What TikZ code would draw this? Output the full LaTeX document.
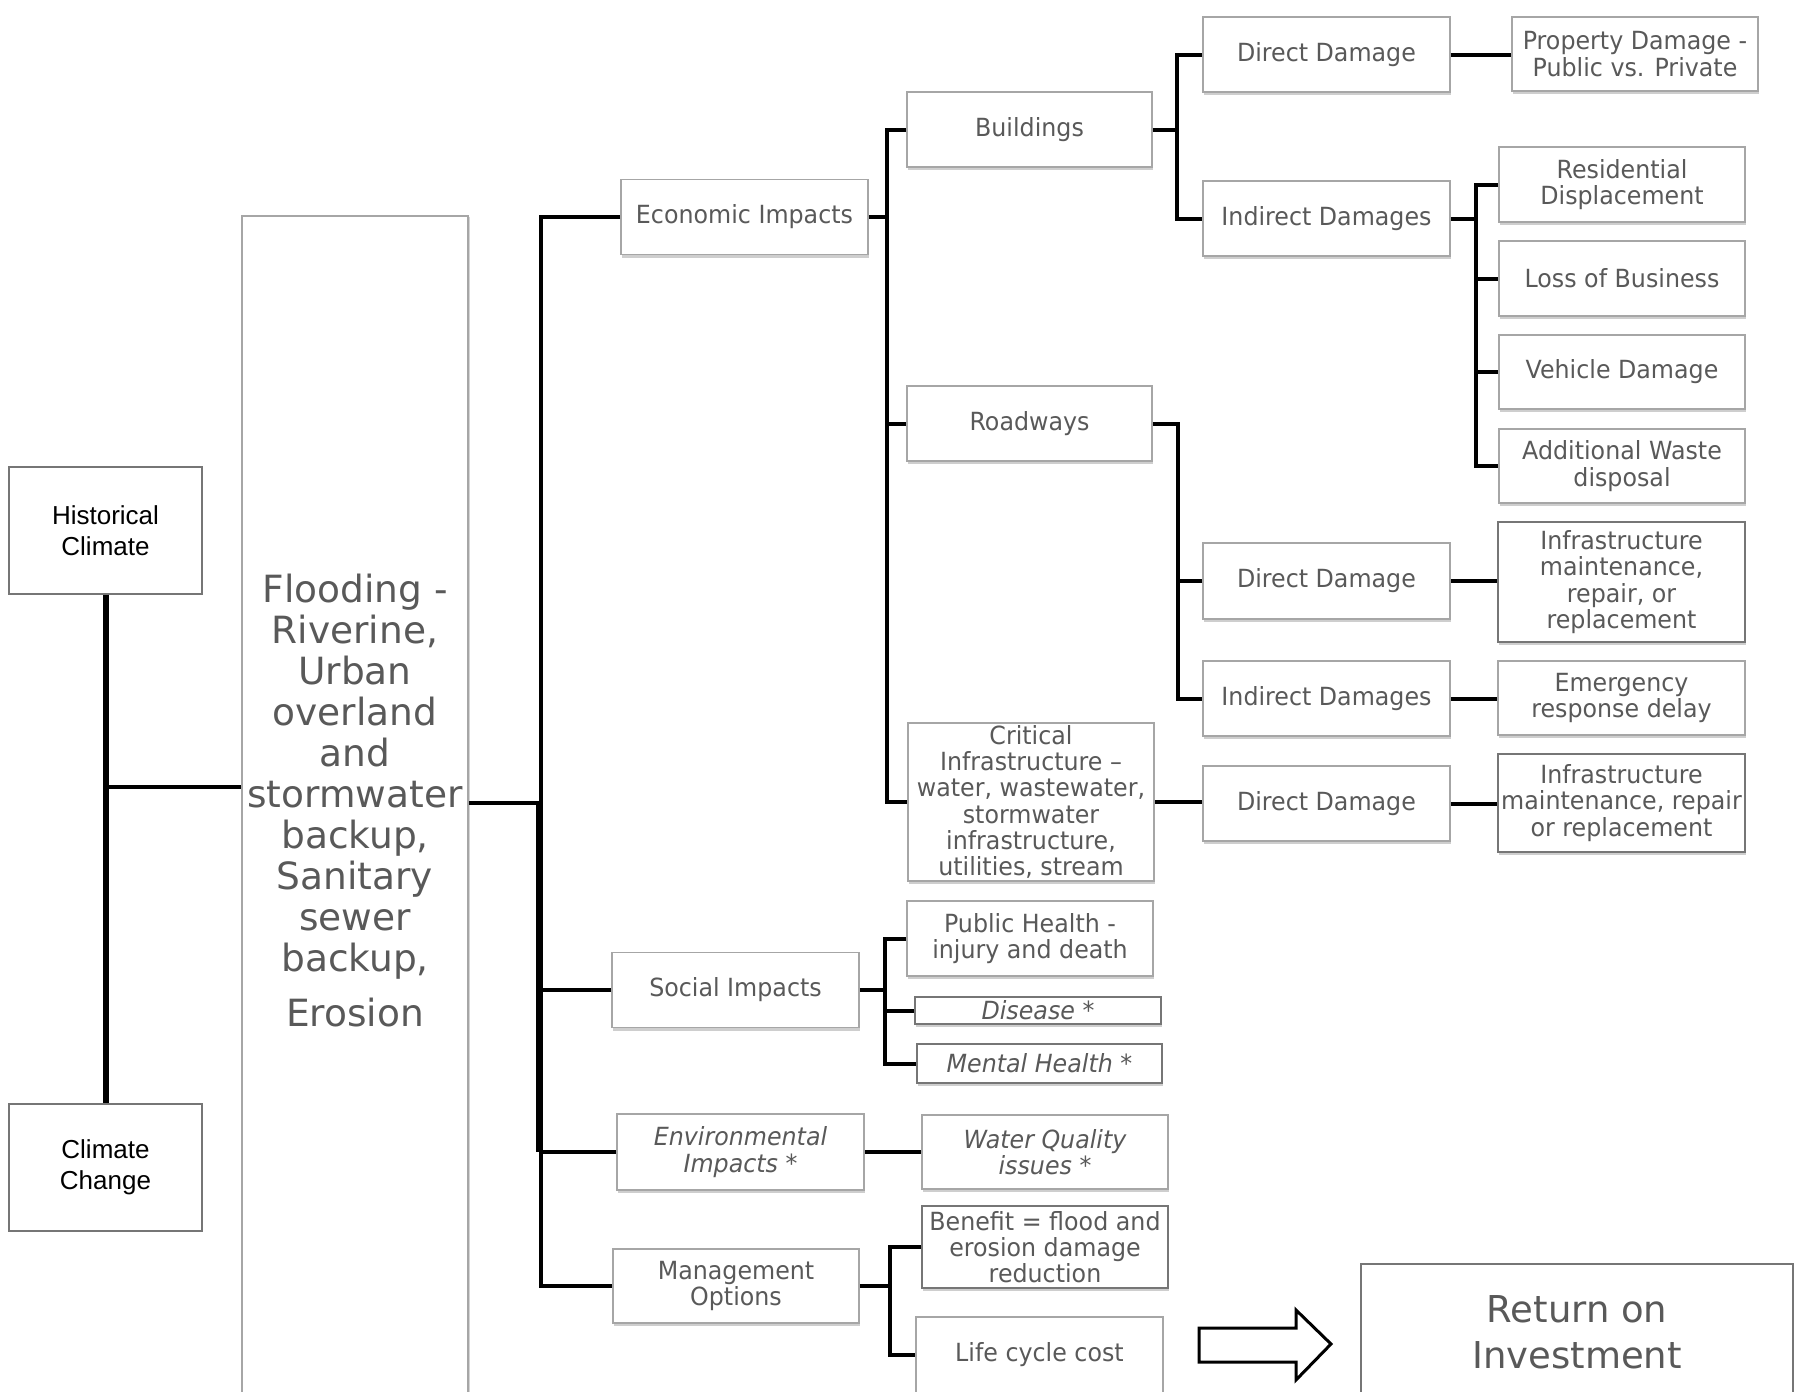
\documentclass[tikz,border=0pt]{standalone}
\usepackage{fontspec}
\setmainfont{DejaVu Sans}
\newfontfamily\boxfont{DejaVu Sans}[FakeStretch=0.95]
\newfontfamily\arialfont{Liberation Sans}
\usetikzlibrary{shadows}
\definecolor{txtgray}{HTML}{595959}
\definecolor{bordgray}{HTML}{A6A6A6}
\definecolor{darkbord}{HTML}{767676}
\tikzset{
  sz/.style 2 args={minimum width=#1*0.5pt, minimum height=#2*0.5pt},
  box/.style={draw=bordgray, fill=white, line width=0.8pt, text=txtgray, align=center,
    inner sep=0pt, font=\boxfont\fontsize{12.5}{13.15}\selectfont,
    drop shadow={shadow xshift=0.5pt, shadow yshift=-1.5pt, opacity=0.35, fill=black!55}},
  ibox/.style={box, font=\boxfont\itshape\fontsize{12.5}{13.15}\selectfont},
  dbox/.style={draw=darkbord},
  climbox/.style={draw=darkbord, fill=white, line width=0.6pt, text=black, align=center,
    inner sep=0pt, font=\arialfont\fontsize{13}{15.5}\selectfont},
  bigbox/.style={draw=bordgray, fill=white, line width=0.8pt, inner sep=0pt,
    drop shadow={shadow xshift=1.2pt, shadow yshift=-0.5pt, opacity=0.3, fill=black!55}},
  bigtext/.style={text=txtgray, align=center, inner sep=0pt,
    font=\fontsize{18.75}{20.5}\selectfont},
  roibox/.style={draw=darkbord, fill=white, line width=0.8pt, text=txtgray, align=center,
    inner sep=0pt, font=\fontsize{18.5}{23}\selectfont},
  conn/.style={line width=2pt, black},
  bigconn/.style={line width=3pt, black},
  arrowshape/.style={line width=1.5pt, black, line join=miter, fill=white}
}
\begin{document}
\begin{tikzpicture}[x=0.5pt, y=-0.5pt]
\useasboundingbox[fill=white] (0,0) rectangle (1796,1392);

% left column
\node[climbox, sz={193}{127}] (hist) at (105.5,530.5) {Historical\\Climate};
\node[climbox, sz={193}{127}] (cc) at (105.5,1167.5) {Climate\\Change};

% flooding box
\node[bigbox, sz={226}{1184}] (flood) at (355,808) {};
\node[bigtext] (floodtxt) at (355,801) {Flooding -\\Riverine,\\Urban\\overland\\and\\stormwater\\backup,\\Sanitary\\sewer\\backup,\\[7pt]Erosion};

% level 1
\node[box, sz={247}{75}] (eco) at (744.5,217) {Economic Impacts};
\node[box, sz={247}{75}] (soc) at (735.5,990) {Social Impacts};
\node[ibox, sz={247}{76}] (env) at (740.5,1152) {Environmental\\Impacts *};
\node[box, sz={246}{74}] (mgmt) at (736,1286) {Management\\Options};

% level 2 (economic)
\node[box, sz={245}{75}] (bld) at (1029.5,129.5) {Buildings};
\node[box, sz={245}{75}] (rd) at (1029.5,423.5) {Roadways};
\node[box, sz={246}{158}] (crit) at (1031,802) {Critical\\Infrastructure –\\water, wastewater,\\stormwater\\infrastructure,\\utilities, stream};

% level 3
\node[box, sz={247}{75}] (dd1) at (1326.5,54.5) {Direct Damage};
\node[box, sz={247}{75}] (id1) at (1326.5,218.5) {Indirect Damages};
\node[box, sz={247}{76}] (dd2) at (1326.5,581) {Direct Damage};
\node[box, sz={247}{75}] (id2) at (1326.5,698.5) {Indirect Damages};
\node[box, sz={247}{75}] (dd3) at (1326.5,803.5) {Direct Damage};

% level 4
\node[box, sz={246}{74}] (prop) at (1635,54) {Property Damage -\\Public vs. Private};
\node[box, sz={246}{75}] (res) at (1622,184.5) {Residential\\Displacement};
\node[box, sz={246}{75}] (loss) at (1622,278.5) {Loss of Business};
\node[box, sz={246}{74}] (veh) at (1622,372) {Vehicle Damage};
\node[box, sz={246}{74}] (waste) at (1622,466) {Additional Waste\\disposal};
\node[box, dbox, sz={247}{120}] (inf1) at (1621.5,582) {Infrastructure\\maintenance,\\repair, or\\replacement};
\node[box, sz={247}{74}] (emg) at (1621.5,698) {Emergency\\response delay};
\node[box, dbox, sz={247}{98}] (inf2) at (1621.5,803) {Infrastructure\\maintenance, repair\\or replacement};

% social
\node[box, sz={246}{75}] (ph) at (1030,938.5) {Public Health -\\injury and death};
\node[ibox, dbox, sz={246}{27}] (dis) at (1038,1010.5) {Disease *};
\node[ibox, dbox, sz={245}{39}] (mh) at (1039.5,1063.5) {Mental Health *};

% environmental
\node[ibox, sz={246}{74}] (wq) at (1045,1152) {Water Quality\\issues *};

% management
\node[box, dbox, sz={246}{82}] (ben) at (1045,1247) {Benefit = flood and\\erosion damage\\reduction};
\node[box, sz={247}{76}] (life) at (1039.5,1355) {Life cycle cost};

% return on investment
\node[roibox, sz={432}{136}] (roi) at (1577,1332) {Return on\\Investment};
\draw[arrowshape] (1199,1328) -- (1296,1328) -- (1296,1310) -- (1331,1344) -- (1296,1380) -- (1296,1362) -- (1199,1362) -- cycle;

% connectors: climate
\coordinate (jH) at (105,787);
\draw[bigconn] (hist.south) -- (cc.north);
\draw[conn] (jH) -- (jH -| flood.west);

% main trunk
\coordinate (jT) at (541,803);
\draw[conn] (flood.east |- jT) -- (jT);
\draw[conn] (eco.west) -| (jT) |- (mgmt.west);
\draw[conn] ([xshift=-1.5pt]jT) -- ([xshift=-1.5pt]jT |- env.west);
\draw[conn] (soc.west) -- (soc.west -| jT);
\draw[conn] (env.west) -- (env.west -| jT);

% economic branch
\coordinate (jE) at (887,217);
\draw[conn] (eco.east) -- (jE);
\draw[conn] (bld.west) -| (jE) |- (crit.west);
\draw[conn] (rd.west) -- (rd.west -| jE);

% buildings branch
\coordinate (jB) at (1177,129.5);
\draw[conn] (bld.east) -- (jB);
\draw[conn] (dd1.west) -| (jB) |- (id1.west);
\draw[conn] (dd1.east) -- (dd1.east -| prop.west);

% indirect damages (buildings)
\coordinate (jI) at (1476,218.5);
\draw[conn] (id1.east) -- (jI);
\draw[conn] (res.west) -| (jI) |- (waste.west);
\draw[conn] (loss.west) -- (loss.west -| jI);
\draw[conn] (veh.west) -- (veh.west -| jI);

% roadways branch
\coordinate (jR) at (1178,423.5);
\draw[conn] (rd.east) -- (jR) |- (id2.west);
\draw[conn] (dd2.west) -- (dd2.west -| jR);
\draw[conn] (dd2.east) -- (dd2.east -| inf1.west);
\draw[conn] (id2.east) -- (id2.east -| emg.west);

% critical infrastructure
\draw[conn] (crit.east) -- (crit.east -| dd3.west);
\draw[conn] (dd3.east) -- (dd3.east -| inf2.west);

% social branch
\coordinate (jS) at (885,990);
\draw[conn] (soc.east) -- (jS);
\draw[conn] (ph.west) -| (jS) |- (mh.west);
\draw[conn] (dis.west) -- (dis.west -| jS);

% environmental
\draw[conn] (env.east) -- (env.east -| wq.west);

% management
\coordinate (jM) at (890,1286);
\draw[conn] (mgmt.east) -- (jM);
\draw[conn] (ben.west) -| (jM) |- (life.west);
\end{tikzpicture}
\end{document}
